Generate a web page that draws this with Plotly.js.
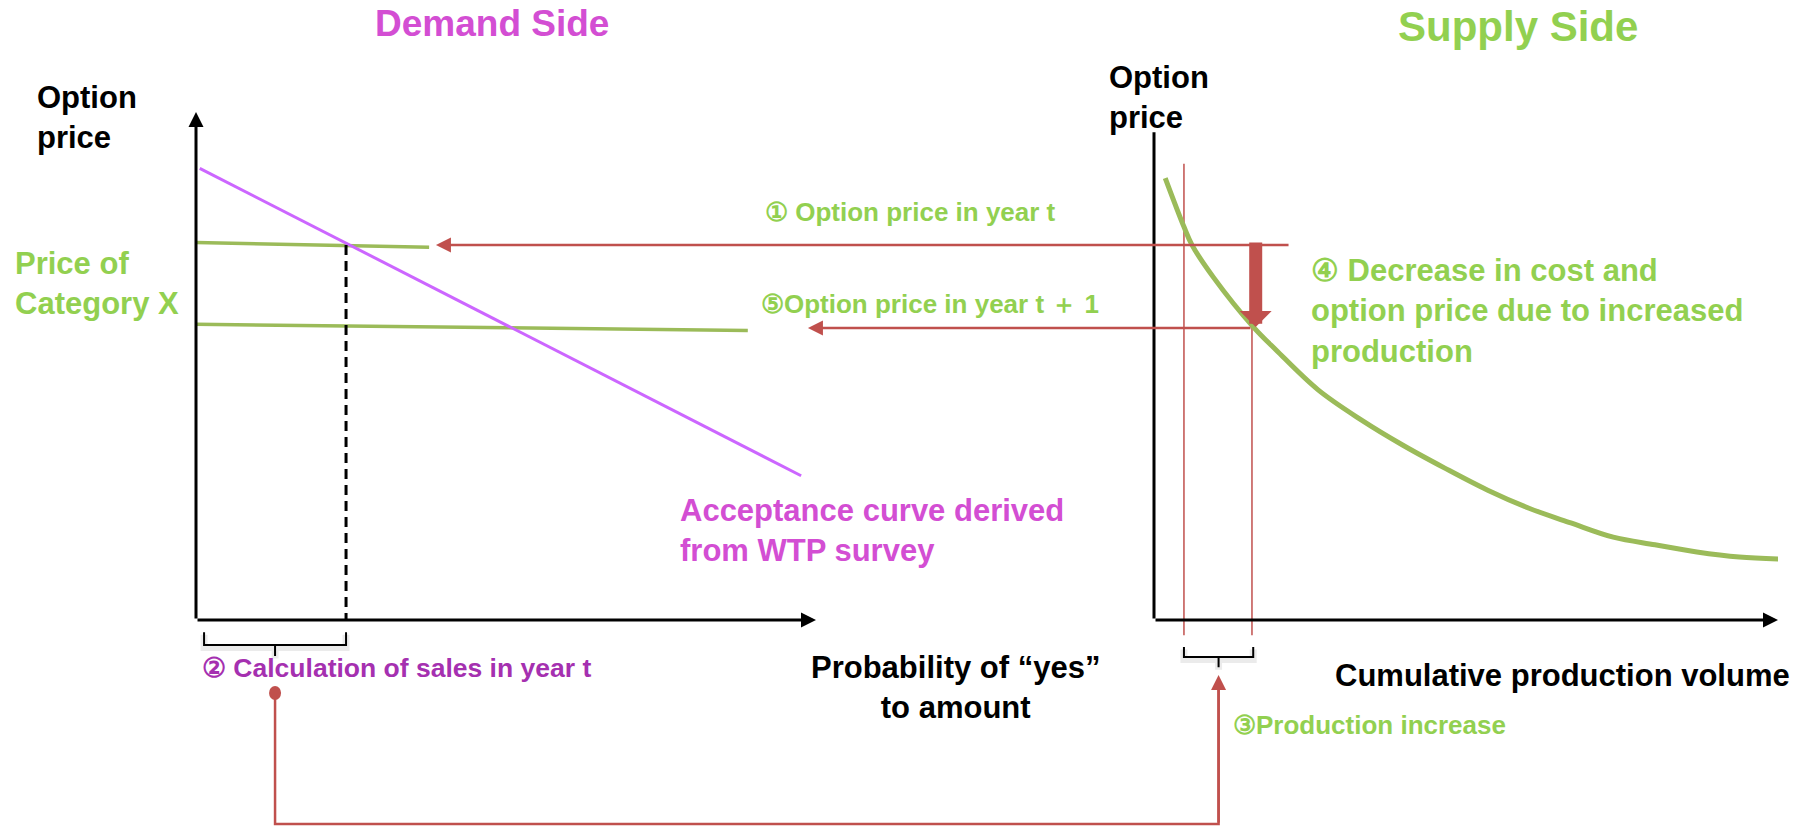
<!DOCTYPE html>
<html>
<head>
<meta charset="utf-8">
<script src="https://cdn.plot.ly/plotly-3.0.1.min.js"></script>
<style>
  html, body { margin: 0; padding: 0; background: #fff; }
  #chart { width: 1810px; height: 827px; }
</style>
</head>
<body>
<div id="chart"></div>
<script>
// demand side: acceptance curve derived from the WTP survey (probability of "yes" vs price)
const acceptanceProb = [0.006, 0.976];
const acceptancePrice = [88.9, 28.4];

// price of category X in year t and year t+1
const priceTProb = [0, 0.376];
const priceT = [74.3, 73.4];
const priceT1Prob = [0, 0.89];
const priceT1 = [58.2, 57.0];
const salesT = 0.242;
const salesBracket = [0.013, 0.242];

// supply side: option price over cumulative production volume
const supplyVolume = [1.8, 4.8, 6.1, 9.5, 15.9, 19.6, 26.3, 33.2, 39.9, 46.6, 53.4, 60.1, 66.8, 73.6, 80.3, 87.0, 93.8, 100.4];
const supplyPrice = [87.0, 77.4, 73.8, 67.5, 57.7, 53.1, 45.3, 39.4, 34.4, 29.9, 25.6, 22.0, 19.1, 16.3, 14.8, 13.4, 12.4, 12.0];
const volumeBefore = 4.8;
const volumeAfter = 15.7;
const volumeBracket = [4.8, 15.9];
const volumeBeforeTop = 89.8;

// the price arrows between the two sides
const arrowT = { price: 73.8, fromVolume: 21.8, toProb: 0.387 };
const arrowT1 = { price: 57.5, fromVolume: volumeAfter, toProb: 0.987 };
const decrease = { volume: 16.3, from: 74.6, to: 57.7 };

const W = 1810, H = 827;
const FONT = "Liberation Sans, Arial, Helvetica, sans-serif";
const GREEN_TEXT = "#92D050";
const GREEN_LINE = "#9BBB59";
const RED = "#C0504D";
const MAGENTA = "#D34ED3";
const PURPLE = "#A530B0";

const xDemand = { domain: [0.10829, 0.45083], range: [0, 1] };
const xSupply = { domain: [0.63757, 0.98232], range: [0, 100] };
const yPrice = { domain: [0.18888, 0.86457], range: [-10, 100] };

function toPaper(axis, v) {
  const d = axis.domain, r = axis.range;
  return d[0] + ((v - r[0]) / (r[1] - r[0])) * (d[1] - d[0]);
}

function hidden(axis) {
  return Object.assign({}, axis, {
    visible: false, autorange: false, fixedrange: true,
    showgrid: false, zeroline: false,
  });
}

function line(x, y, color, width, extra) {
  return Object.assign({
    x, y, type: "scatter", mode: "lines", hoverinfo: "skip",
    line: { color, width },
  }, extra);
}

// curly-ish bracket under an axis, with a soft grey shadow like the original
function bracket(span, top, bottom, tip, xaxis) {
  const mid = (span[0] + span[1]) / 2;
  const xs = [span[0], span[0], mid, mid, mid, span[1], span[1]];
  const ys = [top, bottom, bottom, tip, bottom, bottom, top];
  return [
    line(xs, ys.map((v) => v - 0.5), "rgba(0,0,0,0.08)", 7, { xaxis }),
    line(xs, ys, "#000", 2, { xaxis }),
  ];
}

const traces = [
  line(priceTProb, priceT, GREEN_LINE, 3.5),
  line(priceT1Prob, priceT1, GREEN_LINE, 3.5),
  line(acceptanceProb, acceptancePrice, "#CC66FF", 3),
  line([salesT, salesT], [arrowT.price, 0], "#000", 3, { line: { color: "#000", width: 3, dash: "10px,6px" } }),
  ...bracket(salesBracket, -2.4, -4.9, -7.1, "x"),
  line([volumeBefore, volumeBefore], [volumeBeforeTop, -3], RED, 1.5, { xaxis: "x2" }),
  line([volumeAfter, volumeAfter], [arrowT1.price, -3], RED, 1.5, { xaxis: "x2" }),
  line(supplyVolume, supplyPrice, GREEN_LINE, 5, { xaxis: "x2", line: { color: GREEN_LINE, width: 5, shape: "spline" } }),
  ...bracket(volumeBracket, -5.3, -7.3, -9.3, "x2"),
];

function axisArrow(xref, x0, y0, x1, y1, head) {
  return {
    xref, yref: "y", axref: xref, ayref: "y",
    x: x1, y: y1, ax: x0, ay: y0, text: "",
    showarrow: true, arrowhead: head ? 2 : 0, arrowsize: 1, arrowwidth: 3,
    arrowcolor: "#000", standoff: 0,
  };
}

function label(text, px, py, size, color, xanchor, align) {
  return {
    text: "<b>" + text + "</b>", xref: "paper", yref: "paper",
    x: px / W, y: 1 - py / H, xanchor: xanchor || "left", yanchor: "middle",
    align: align || "left", showarrow: false,
    font: { family: FONT, size, color },
  };
}

// pixel distance between a point on the supply side and one on the demand side
function gapPx(volume, prob) {
  return (toPaper(xSupply, volume) - toPaper(xDemand, prob)) * W;
}

const connectorL = toPaper(xDemand, (salesBracket[0] + salesBracket[1]) / 2);
const connectorR = toPaper(xSupply, (volumeBracket[0] + volumeBracket[1]) / 2);

const annotations = [
  axisArrow("x", 0, 0, 0, 100, true),
  axisArrow("x", 0, 0, 1, 0, true),
  axisArrow("x2", 0, 0, 0, 96, false),
  axisArrow("x2", 0, 0, 100, 0, true),
  {
    xref: "x", yref: "y", x: arrowT.toProb, y: arrowT.price,
    ax: gapPx(arrowT.fromVolume, arrowT.toProb), ay: 0, text: "",
    showarrow: true, arrowhead: 2, arrowsize: 1.2, arrowwidth: 2.5, arrowcolor: RED, standoff: 0,
  },
  {
    xref: "x", yref: "y", x: arrowT1.toProb, y: arrowT1.price,
    ax: gapPx(arrowT1.fromVolume, arrowT1.toProb), ay: 0, text: "",
    showarrow: true, arrowhead: 2, arrowsize: 1.2, arrowwidth: 2.5, arrowcolor: RED, standoff: 0,
  },
  {
    xref: "x2", yref: "y", axref: "x2", ayref: "y",
    x: decrease.volume, y: decrease.to, ax: decrease.volume, ay: decrease.from, text: "",
    showarrow: true, arrowhead: 1, arrowsize: 0.41, arrowwidth: 13, arrowcolor: RED, standoff: 0,
  },
  {
    xref: "paper", yref: "paper", x: connectorR, y: 1 - 675 / H,
    ax: 0, ay: 149, text: "",
    showarrow: true, arrowhead: 2, arrowsize: 1.2, arrowwidth: 2.5, arrowcolor: RED, standoff: 0,
  },

  label("Demand Side", 492, 24, 37, MAGENTA, "center", "center"),
  label("Supply Side", 1518, 27, 42, GREEN_TEXT, "center", "center"),
  label("Option<br>price", 35, 117, 31, "#000"),
  label("Option<br>price", 1107, 97, 31, "#000"),
  label("Price of<br>Category X", 13, 284, 31, GREEN_TEXT),
  label("① Option price in year t", 911, 212, 26, GREEN_TEXT, "center", "center"),
  label("⑤Option price in year t ＋ 1", 930, 304, 26, GREEN_TEXT, "center", "center"),
  label("④ Decrease in cost and<br>option price due to increased<br>production", 1309, 311, 31, GREEN_TEXT),
  label("Acceptance curve derived<br>from WTP survey", 678, 530, 31, MAGENTA),
  label("② Calculation of sales in year t", 200, 668, 26.5, PURPLE),
  label("Probability of “yes”<br>to amount", 955, 687, 31, "#000", "center", "center"),
  label("Cumulative production volume", 1562, 675, 31, "#000", "center", "center"),
  label("③Production increase", 1231, 725, 26, GREEN_TEXT),
];

const shapes = [
  {
    type: "circle", xref: "paper", yref: "paper", xsizemode: "pixel", ysizemode: "pixel",
    xanchor: connectorL, yanchor: 1 - 693 / H, x0: -6, x1: 6, y0: -7, y1: 7,
    fillcolor: RED, line: { width: 0 },
  },
  {
    type: "path", xref: "paper", yref: "paper",
    path: `M${connectorL},${1 - 693 / H} V${1 - 824 / H} H${connectorR} V${1 - 690 / H}`,
    line: { color: RED, width: 2.5 },
  },
];

const layout = {
  width: W, height: H,
  margin: { l: 0, r: 0, t: 0, b: 0 },
  paper_bgcolor: "#fff", plot_bgcolor: "rgba(0,0,0,0)",
  showlegend: false, hovermode: false,
  xaxis: hidden(xDemand),
  xaxis2: hidden(xSupply),
  yaxis: hidden(yPrice),
  annotations,
  shapes,
};

Plotly.newPlot("chart", traces, layout, { displayModeBar: false, staticPlot: true });
</script>
</body>
</html>
